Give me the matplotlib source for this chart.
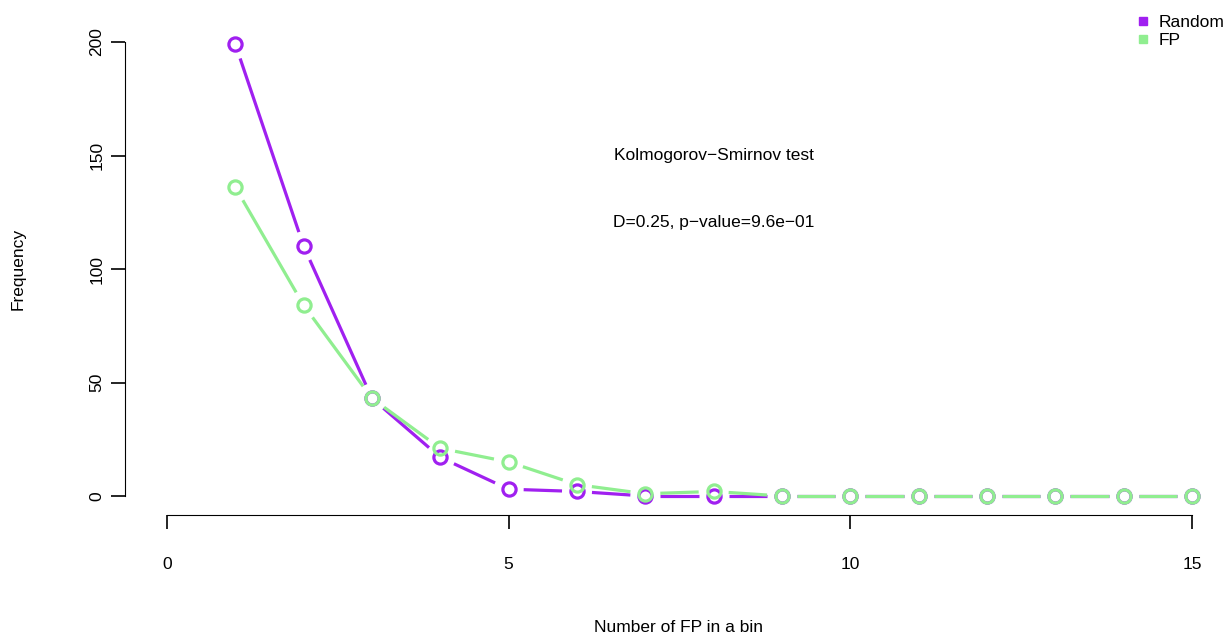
import numpy as np
import matplotlib
matplotlib.use("Agg")
import matplotlib.pyplot as plt
from matplotlib.lines import Line2D

plt.rcParams['font.family'] = ['Liberation Sans', 'DejaVu Sans']

# 数据
fp_counts = [1, 2, 3, 4, 5, 6, 7, 8, 9, 10, 11, 12, 13, 14, 15]
random_freq = [199, 110, 43, 17, 3, 2, 0, 0, 0, 0, 0, 0, 0, 0, 0]
fp_freq = [136, 84, 43, 21, 15, 5, 1, 2, 0, 0, 0, 0, 0, 0, 0]
series_names = ["Random", "FP"]
series_colors = ["#A020F0", "#90EE90"]
x_ticks = [0, 5, 10, 15]
y_ticks = [0, 50, 100, 150, 200]
ks_title = "Kolmogorov\u2212Smirnov test"
ks_result = "D=0.25, p\u2212value=9.6e\u221201"

W, H, DPI = 1228, 637, 100
FS = 12.5
fig = plt.figure(figsize=(W / DPI, H / DPI), dpi=DPI)
ax = fig.add_axes([167 / W, (H - 496) / H, 1025 / W, 454 / H])
ax.set_xlim(0, 15)
ax.set_ylim(0, 200)


def draw_type_b(ax, x, y, color, gap=15):
    """R 风格 type='b'：点与点之间的线段两端留空"""
    pts = ax.transData.transform(np.column_stack([x, y]))
    inv = ax.transData.inverted()
    for p0, p1 in zip(pts[:-1], pts[1:]):
        d = p1 - p0
        L = np.hypot(*d)
        if L <= 2 * gap:
            continue
        u = d / L
        a = inv.transform(p0 + u * gap)
        b = inv.transform(p1 - u * gap)
        ax.plot([a[0], b[0]], [a[1], b[1]], color=color, lw=2.3,
                solid_capstyle='butt', clip_on=False)
    ax.plot(x, y, linestyle='none', marker='o', ms=9.5, mfc='none',
            mec=color, mew=2.3, clip_on=False)


fig.canvas.draw()
draw_type_b(ax, fp_counts, random_freq, series_colors[0])
draw_type_b(ax, fp_counts, fp_freq, series_colors[1])

# R 风格分离坐标轴
for s in ['top', 'right']:
    ax.spines[s].set_visible(False)
ax.spines['bottom'].set_position(('outward', 19 * 72 / DPI))
ax.spines['left'].set_position(('outward', 42 * 72 / DPI))
ax.spines['bottom'].set_bounds(0, 15)
ax.spines['left'].set_bounds(0, 200)
ax.set_xticks(x_ticks)
ax.set_yticks(y_ticks)
ax.tick_params(axis='both', length=10, width=1.2, labelsize=FS)
ax.tick_params(axis='x', pad=20)
ax.tick_params(axis='y', pad=5)
for lab in ax.get_yticklabels():
    lab.set_rotation(90)
    lab.set_va('center')

fig.text(679 / W, 1 - 628 / H, "Number of FP in a bin", ha='center', va='center', fontsize=FS)
fig.text(18 / W, 1 - 269 / H, "Frequency", ha='center', va='center', rotation=90, fontsize=FS)

ax.text(8, 150, ks_title, ha='center', va='center', fontsize=FS)
ax.text(8, 120.5, ks_result, ha='center', va='center', fontsize=FS)

handles = [Line2D([], [], linestyle='none', marker='s', ms=6, color=c) for c in series_colors]
fig.legend(handles, series_names, loc='upper left', bbox_to_anchor=(1136 / W, 1 - 15 / H),
           frameon=False, fontsize=FS, handlelength=0.8, handletextpad=0.5,
           labelspacing=0.15, borderpad=0, borderaxespad=0)

fig.savefig("out.png", dpi=DPI)
